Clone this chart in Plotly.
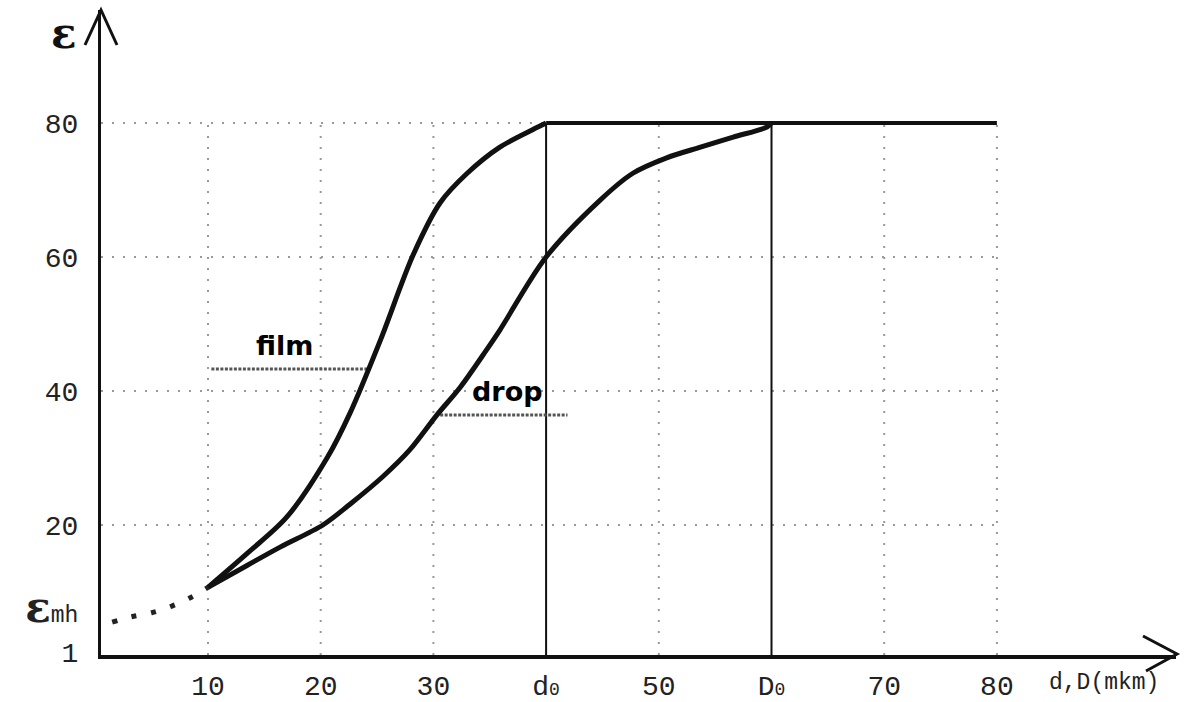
import plotly.graph_objects as go

W, H = 1189, 702

# ---- data ----
film_x = [10, 13.5, 17.0, 20.6, 22.6, 25.3, 28.2, 30.6, 33.0, 35.9, 38.8, 40]
film_y = [10.7, 15.8, 21.2, 30.1, 36.7, 47.6, 60.3, 68.1, 72.5, 76.4, 79.0, 80]
plateau_x = [40, 80]
plateau_y = [80, 80]
drop_x = [10, 13.5, 16.4, 20.2, 22.6, 25.5, 27.9, 30.3, 32.4, 34.7, 35.9, 40.0, 44.8, 47.7,
          50.7, 53.7, 56.6, 59.6, 60]
drop_y = [10.7, 14.0, 16.7, 20.0, 23.1, 27.2, 31.2, 36.4, 40.6, 46.1, 49.1, 60.0, 68.5, 72.5,
          74.8, 76.4, 77.9, 79.4, 80]
emh_x = [1.5, 3.2, 5.0, 6.8, 8.6, 10]
emh_y = [5.5, 6.3, 6.9, 7.9, 9.3, 10.7]

x_tickvals = [10, 20, 30, 40, 50, 60, 70, 80]
x_ticktext = ["10", "20", "30", "d<span style='font-size:18px'>0</span>", "50",
              "D<span style='font-size:18px'>0</span>", "70", "80"]
y_tickvals = [1, 7, 20, 40, 60, 80]
y_ticktext = ["1",
              "<span style='font-size:42px;font-family:DejaVu Serif'><b>ε</b></span>"
              "<span style='font-size:23px'>mh</span>",
              "20", "40", "60", "80"]

v_grid = [10, 20, 30, 50, 70, 80]
h_grid = [20, 40, 60]
markers_x = [40, 60]          # d0, D0 verticals
top_y = 80

film_label = ("film", 16.8, 46.8)
film_leader_x = [10.3, 24.1]
film_leader_y = [43.3, 43.3]
drop_label = ("drop", 36.6, 39.9)
drop_leader_x = [30.6, 41.9]
drop_leader_y = [36.4, 36.4]

# ---- geometry ----
px0, pxs = 95.3, 11.27
py0, pys = 659.0, 6.7
x_left_px, x_right_px = 101, 1176
y_bot_px, y_top_px = 655, 10
xr = [(x_left_px - px0) / pxs, (x_right_px - px0) / pxs]
yr = [(py0 - y_bot_px) / pys, (py0 - y_top_px) / pys]

fig = go.Figure()

grid_style = dict(color="#9a9a9a", width=2, dash="2px,9px")
for gx in v_grid:
    fig.add_trace(go.Scatter(x=[gx, gx], y=[yr[0], top_y], mode="lines", line=grid_style,
                             hoverinfo="skip", showlegend=False))
for gy in h_grid:
    fig.add_trace(go.Scatter(x=[xr[0], 80], y=[gy, gy], mode="lines", line=grid_style,
                             hoverinfo="skip", showlegend=False))
fig.add_trace(go.Scatter(x=[xr[0], 40], y=[top_y, top_y], mode="lines", line=grid_style,
                         hoverinfo="skip", showlegend=False))

for mx in markers_x:
    fig.add_trace(go.Scatter(x=[mx, mx], y=[yr[0], top_y], mode="lines",
                             line=dict(color="#111", width=2), showlegend=False))

# leaders
for lx, ly in [(film_leader_x, film_leader_y), (drop_leader_x, drop_leader_y)]:
    fig.add_trace(go.Scatter(x=lx, y=ly, mode="lines",
                             line=dict(color="#555", width=3, dash="3px,1.5px"), showlegend=False))

curve = dict(color="#111", width=5, shape="spline", smoothing=0.9)
fig.add_trace(go.Scatter(x=emh_x, y=emh_y, mode="lines",
                         line=dict(color="#222", width=5, dash="5px,15px", shape="spline"),
                         showlegend=False))
fig.add_trace(go.Scatter(x=film_x, y=film_y, mode="lines", line=curve, name="film", showlegend=False))
fig.add_trace(go.Scatter(x=drop_x, y=drop_y, mode="lines", line=curve, name="drop", showlegend=False))
fig.add_trace(go.Scatter(x=plateau_x, y=plateau_y, mode="lines",
                         line=dict(color="#111", width=4), showlegend=False))

for txt, tx, ty in [film_label, drop_label]:
    fig.add_annotation(x=tx, y=ty, text=f"<b>{txt}</b>", showarrow=False,
                       xanchor="center", yanchor="middle",
                       font=dict(family="DejaVu Sans", size=27, color="#000"))

# axis arrows (paper coords == figure fraction since margins are 0)
def P(px, py):
    return px / W, 1 - py / H

ax_col = "#111"
a1, a2, a3 = P(85, 45), P(101, 10), P(117, 45)
fig.add_shape(type="path", xref="paper", yref="paper",
              path=f"M {a1[0]} {a1[1]} L {a2[0]} {a2[1]} L {a3[0]} {a3[1]}",
              line=dict(color=ax_col, width=3))
b1, b2, b3 = P(1143, 636), P(1177, 654), P(1146, 671)
fig.add_shape(type="path", xref="paper", yref="paper",
              path=f"M {b1[0]} {b1[1]} L {b2[0]} {b2[1]} L {b3[0]} {b3[1]}",
              line=dict(color=ax_col, width=3))

e = P(64, 33)
fig.add_annotation(x=e[0], y=e[1], xref="paper", yref="paper", text="<b>ε</b>", showarrow=False,
                   xanchor="center", yanchor="middle",
                   font=dict(family="DejaVu Serif", size=42, color="#111"))
u = P(1047, 683)
fig.add_annotation(x=u[0], y=u[1], xref="paper", yref="paper", text="d,D(mkm)", showarrow=False,
                   xanchor="left", yanchor="middle",
                   font=dict(family="Liberation Mono", size=23, color="#222"))

tick_font = dict(family="Liberation Mono", size=28, color="#222")
fig.update_layout(
    width=W, height=H, margin=dict(l=0, r=0, t=0, b=0, autoexpand=False),
    plot_bgcolor="white", paper_bgcolor="white", showlegend=False,
    xaxis=dict(domain=[x_left_px / W, x_right_px / W], range=xr, showgrid=False, zeroline=False,
               showline=True, linecolor=ax_col, linewidth=4, tickvals=x_tickvals, ticktext=x_ticktext,
               ticks="", tickfont=tick_font, ticklabelstandoff=2, automargin=False, fixedrange=True),
    yaxis=dict(domain=[1 - y_bot_px / H, 1 - y_top_px / H], range=yr, showgrid=False, zeroline=False,
               showline=True, linecolor=ax_col, linewidth=3, tickvals=y_tickvals, ticktext=y_ticktext,
               ticks="", tickfont=tick_font, ticklabelstandoff=14, automargin=False, fixedrange=True),
)

fig.write_html("out.html", config={"displayModeBar": False},
               post_script="document.body.style.margin='0';document.body.style.overflow='hidden';")
